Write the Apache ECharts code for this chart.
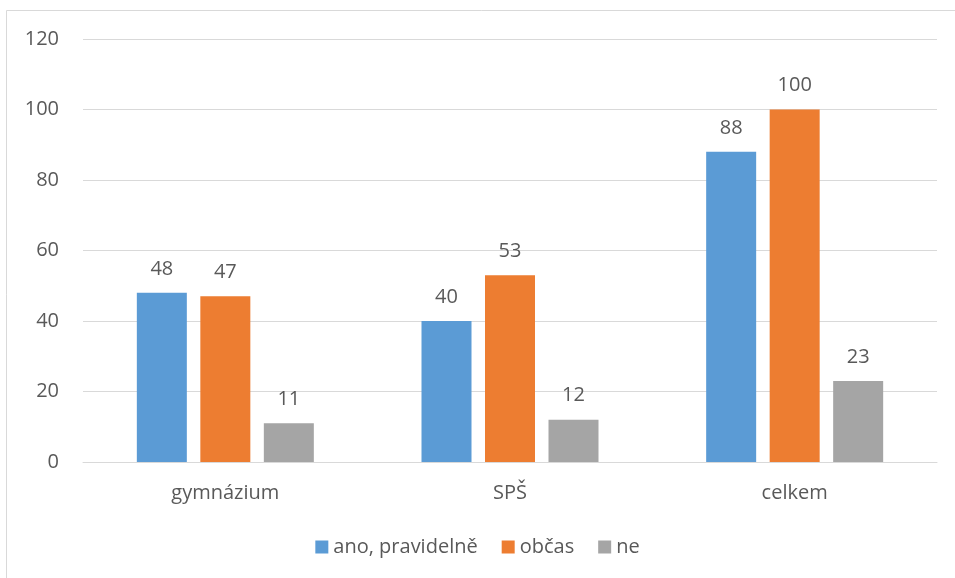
<!DOCTYPE html>
<html>
<head>
<meta charset="utf-8">
<style>
  html, body { margin: 0; padding: 0; background: #ffffff; }
  #chart { width: 955px; height: 578px; }
</style>
<script src="https://cdn.jsdelivr.net/npm/echarts@6/dist/echarts.min.js"></script>
</head>
<body>
<div id="chart"></div>
<script>
// Survey answers by school type
const categories = ['gymnázium', 'SPŠ', 'celkem'];
const seriesNames = ['ano, pravidelně', 'občas', 'ne'];
const valuesPravidelne = [48, 40, 88];
const valuesObcas = [47, 53, 100];
const valuesNe = [11, 12, 23];
const yTicks = [0, 20, 40, 60, 80, 100, 120];

const colors = ['#5B9BD5', '#ED7D31', '#A5A5A5'];
const textColor = '#595959';
const font = '"Open Sans", "Noto Sans", sans-serif';

const chart = echarts.init(document.getElementById('chart'), null, { renderer: 'canvas' });

function barSeries(name, data, color) {
  return {
    name: name,
    type: 'bar',
    data: data,
    barWidth: 50,
    barGap: '27%',
    itemStyle: { color: color },
    label: {
      show: true,
      position: 'top',
      distance: 14,
      color: textColor,
      fontFamily: font,
      fontSize: 20
    }
  };
}

chart.setOption({
  animation: false,
  backgroundColor: '#ffffff',
  color: colors,
  graphic: [{
    type: 'rect',
    shape: { x: 6.5, y: 10.5, width: 1200, height: 1200 },
    style: { fill: 'none', stroke: '#D9D9D9', lineWidth: 1 },
    silent: true,
    z: -1
  }],
  grid: { left: 83, right: 18, top: 39, bottom: 116, containLabel: false },
  legend: {
    bottom: 16,
    left: 'center',
    itemWidth: 13,
    itemHeight: 13,
    itemGap: 24,
    icon: 'rect',
    textStyle: { color: textColor, fontFamily: font, fontSize: 20 },
    data: seriesNames
  },
  xAxis: {
    type: 'category',
    data: categories,
    axisLine: { lineStyle: { color: '#D9D9D9' } },
    axisTick: { show: false },
    axisLabel: { color: textColor, fontFamily: font, fontSize: 20, margin: 21 }
  },
  yAxis: {
    type: 'value',
    min: yTicks[0],
    max: yTicks[yTicks.length - 1],
    interval: 20,
    axisLine: { show: false },
    axisTick: { show: false },
    axisLabel: { color: textColor, fontFamily: font, fontSize: 20, margin: 24 },
    splitLine: { lineStyle: { color: '#D9D9D9' } }
  },
  series: [
    barSeries(seriesNames[0], valuesPravidelne, colors[0]),
    barSeries(seriesNames[1], valuesObcas, colors[1]),
    barSeries(seriesNames[2], valuesNe, colors[2])
  ]
});
</script>
</body>
</html>
